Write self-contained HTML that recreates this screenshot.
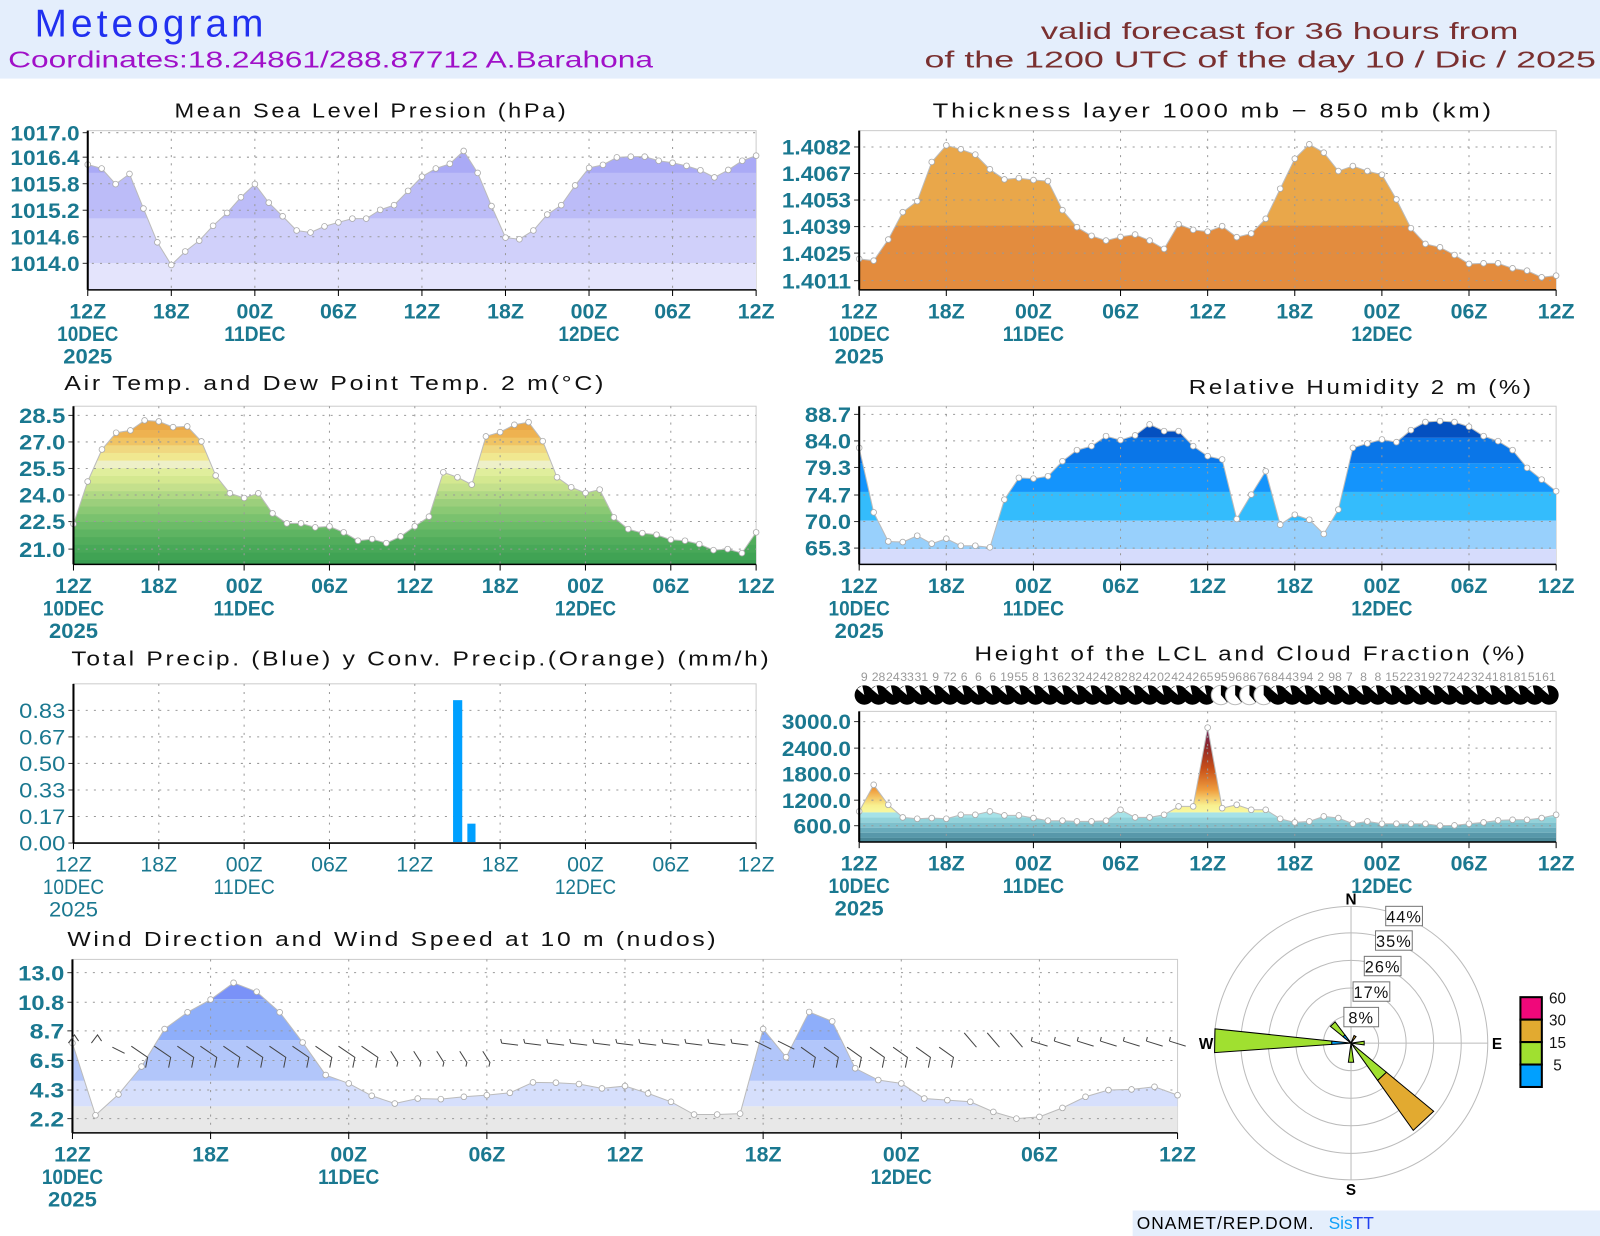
<!DOCTYPE html>
<html><head><meta charset="utf-8">
<style>
html,body{margin:0;padding:0;background:#fff;}
svg{display:block;}
text{font-family:"Liberation Sans",sans-serif;}
.t{font-size:20px;fill:#111;letter-spacing:2.2px;}
.yl{font-size:21px;font-weight:bold;fill:#1a7890;}
.xl{font-size:21px;font-weight:bold;fill:#1a7890;}
.thin{font-weight:normal;}
</style></head><body>
<div id="c"></div>
<script>
var S='';
function add(s){S+=s;}
var HX=[ '12Z','18Z','00Z','06Z','12Z','18Z','00Z','06Z','12Z'];
function panel(o){
  var x0=o.x0,x1=o.x1,y0=o.y0,y1=o.y1,n=o.n||49,id=o.id;
  var dx=(x1-x0)/(n-1);
  add('<rect x="'+x0+'" y="'+y0+'" width="'+(x1-x0)+'" height="'+(y1-y0)+'" fill="#fff" stroke="#ccc"/>');
  if(o.data){
    var pts=[];for(var i=0;i<n;i++)pts.push((x0+i*dx).toFixed(1)+','+o.data[i].toFixed(1));
    var poly=x0+','+y1+' '+pts.join(' ')+' '+x1+','+y1;
    add('<clipPath id="'+id+'"><polygon points="'+poly+'"/></clipPath><g clip-path="url(#'+id+')">');
    o.bands.forEach(function(b){add('<rect x="'+x0+'" y="'+b[0]+'" width="'+(x1-x0)+'" height="'+(b[1]-b[0])+'" fill="'+b[2]+'"/>');});
    add('</g>');
  }
  var xt=[];for(var k=0;k<9;k++)xt.push(x0+k*(x1-x0)/8);
  xt.forEach(function(x,k){if(k>0&&k<8)add('<line x1="'+x+'" y1="'+y0+'" x2="'+x+'" y2="'+y1+'" stroke="#999" stroke-dasharray="2,6"/>');});
  var th=o.thin?' thin':'';
  o.yt.forEach(function(t){add('<line x1="'+(x0+4)+'" y1="'+t[1]+'" x2="'+x1+'" y2="'+t[1]+'" stroke="#999" stroke-dasharray="2,6"/>');
    add('<line x1="'+(x0-5)+'" y1="'+t[1]+'" x2="'+x0+'" y2="'+t[1]+'" stroke="#333"/>');
    add('<text class="yl'+th+'" x="'+(x0-8)+'" y="'+(t[1]+7.5)+'" text-anchor="end" textLength="'+(t[0].length*11.3)+'" lengthAdjust="spacingAndGlyphs">'+t[0]+'</text>');});
  if(o.data){
    add('<polyline points="'+pts.join(' ')+'" fill="none" stroke="#bbb" stroke-width="1"/>');
    for(var i=0;i<n;i++)add('<circle cx="'+(x0+i*dx).toFixed(1)+'" cy="'+o.data[i].toFixed(1)+'" r="2.8" fill="#fff" stroke="#aaa" stroke-width="0.8"/>');
  }
  add('<line x1="'+x0+'" y1="'+y0+'" x2="'+x0+'" y2="'+y1+'" stroke="#000" stroke-width="2"/>');
  add('<line x1="'+x0+'" y1="'+y1+'" x2="'+x1+'" y2="'+y1+'" stroke="#000" stroke-width="1.5"/>');
  function XT(x,y,s){add('<text class="xl'+th+'" x="'+x+'" y="'+y+'" text-anchor="middle" textLength="'+(s.length*12)+'" lengthAdjust="spacingAndGlyphs">'+s+'</text>');}
  xt.forEach(function(x,k){
    add('<line x1="'+x+'" y1="'+y1+'" x2="'+x+'" y2="'+(y1+6)+'" stroke="#000"/>');
    XT(x,y1+28,HX[k]);
    var d=k==0?'10DEC':k==2?'11DEC':k==6?'12DEC':'';
    if(d)XT(x,y1+50,d);
    if(k==0)XT(x,y1+72,'2025');
  });
}
function map(a,f){return a.map(f);}
add('<rect x="0" y="0" width="1568" height="77" fill="#e4eefc"/>');
add('<text x="34" y="36" font-size="38" fill="#2030f0" letter-spacing="4">Meteogram</text>');
add('<text x="8" y="66" font-size="23" fill="#a010c8" textLength="632" lengthAdjust="spacingAndGlyphs">Coordinates:18.24861/288.87712 A.Barahona</text>');
add('<text x="1020" y="38" font-size="23" fill="#7a3030" textLength="468" lengthAdjust="spacingAndGlyphs">valid forecast for 36 hours from</text>');
add('<text x="906" y="66" font-size="23" fill="#7a3030" textLength="658" lengthAdjust="spacingAndGlyphs">of the 1200 UTC of the day 10 / Dic / 2025</text>');
function T(x,y,s,w){add('<text class="t" x="'+x+'" y="'+y+'" textLength="'+w+'" lengthAdjust="spacingAndGlyphs">'+s+'</text>');}
T(171,115,'Mean Sea Level Presion (hPa)',386);
T(914,115,'Thickness layer 1000 mb − 850 mb (km)',550);
T(63,382,'Air Temp. and Dew Point Temp. 2 m(°C)',531);
T(1165,386,'Relative Humidity 2 m (%)',338);
T(70,652,'Total Precip. (Blue) y Conv. Precip.(Orange) (mm/h)',686);
T(955,647,'Height of the LCL and Cloud Fraction (%)',542);
T(66,927,'Wind Direction and Wind Speed at 10 m (nudos)',638);

var z1=[200,212,258,228,330,430,497,457,425,381,343,297,258,313,353,395,401,383,371,360,360,334,320,278,236,212,198,160,225,323,416,421,395,348,320,262,210,201,179,177,177,189,195,204,217,238,216,189,174];
var f1=function(z){return 128+(z-100)*0.3316;};
panel({id:'c1',x0:86,x1:741,y0:128,y1:284,data:map(z1,f1),
 bands:[[120,f1(225),'#aaaaf6'],[f1(225),f1(360),'#bcbcf8'],[f1(360),f1(492),'#d0d0fa'],[f1(492),290,'#e4e4fc']],
 yt:[['1017.0',130],['1016.4',154],['1015.8',180],['1015.2',206],['1014.6',232],['1014.0',258]]});
var z2=[415,420,357,275,242,125,75,87,103,147,177,173,179,182,269,320,346,360,349,342,360,385,311,328,333,317,350,339,295,205,115,72,97,152,137,152,163,237,323,370,380,403,430,428,428,443,450,470,465];
var f2=function(z){return 144+(z-80)*0.3275;};
panel({id:'c2',x0:842,x1:1525,y0:128,y1:284,data:map(z2,f2),
 bands:[[120,f2(315),'#e9a74a'],[f2(315),290,'#e38c3e']],
 yt:[['1.4082',144],['1.4067',170],['1.4053',196],['1.4039',222],['1.4025',248],['1.4011',275]]});
var z3=[430,303,207,157,150,120,123,140,138,183,285,338,352,338,398,428,428,440,437,455,480,475,487,467,437,408,275,290,312,168,155,133,125,182,290,320,337,327,410,445,457,462,477,480,490,508,505,517,455];
var f3=function(z){return 407+(z-105)*0.3275;};
var tc=['#3a9e52','#40a354','#48a858','#52ad5c','#5eb462','#6cbb68','#7ac26e','#8ac974','#9ccf7c','#b0d884','#c4e08c','#d4e890','#e0ee9c','#eef0c8','#f0e890','#f0d880','#f0c464','#eeb250','#eaa848'];
var tb=[];for(var i=0;i<tc.length;i++){var yb=556-i*7.5;tb.push([yb-7.5,yb+0.3,tc[i]]);}
tb[tb.length-1][0]=390;
panel({id:'c3',x0:72,x1:741,y0:398,y1:553,data:map(z3,f3),bands:tb,
 yt:[['28.5',407],['27.0',433],['25.5',459],['24.0',485],['22.5',511],['21.0',538]]});
var z4=[985,1178,1265,1267,1248,1272,1257,1278,1278,1283,1140,1075,1077,1070,1025,992,980,950,962,948,915,935,935,980,1010,1020,1198,1125,1055,1215,1185,1200,1243,1170,985,972,960,968,932,908,905,908,922,950,965,992,1045,1080,1115];
var f4=function(z){return 406+(z-885)*0.3275;};
panel({id:'c4',x0:842,x1:1525,y0:398,y1:553,data:map(z4,f4),
 bands:[[390,429,'#0450c0'],[429,454,'#0a76e8'],[454,482,'#1494fc'],[482,510,'#34bcfc'],[510,538,'#98d0fc'],[538,560,'#d6dcfc']],
 yt:[['88.7',406],['84.0',432],['79.3',458],['74.7',485],['70.0',511],['65.3',537]]});
panel({id:'c5',x0:72,x1:741,y0:670,y1:826,thin:true,
 yt:[['0.83',696],['0.67',722],['0.50',748],['0.33',774],['0.17',800],['0.00',826]]});
add('<rect x="444" y="686" width="9" height="139" fill="#00a0ff"/><rect x="458" y="807" width="8" height="18" fill="#00a0ff"/>');
var z6=[515,435,495,533,537,535,537,525,525,515,527,527,535,543,543,545,545,543,510,533,533,525,500,500,263,505,495,510,510,537,548,545,530,535,552,545,552,552,552,552,558,557,552,548,542,540,540,535,525];
var f6=function(z){return 707+(z-245)*0.326;};
var lb=[[690,796,'url(#lg)'],[796,801,'#a6e2e8'],[801,806,'#92d2da'],[806,811,'#7ec0cc'],[811,816,'#6aacbc'],[816,821,'#5898aa'],[821,830,'#4a8898']];
add('<defs><linearGradient id="lg" x1="0" y1="710" x2="0" y2="796" gradientUnits="userSpaceOnUse"><stop offset="0" stop-color="#6a1f6a"/><stop offset="0.25" stop-color="#902828"/><stop offset="0.5" stop-color="#c85018"/><stop offset="0.75" stop-color="#f0a040"/><stop offset="0.92" stop-color="#f8f090"/><stop offset="1" stop-color="#f8f8a0"/></linearGradient></defs>');
panel({id:'c6',x0:842,x1:1525,y0:697,y1:825,data:map(z6,f6),bands:lb,
 yt:[['3000.0',707],['2400.0',733],['1800.0',758],['1200.0',784],['600.0',809]]});
var nums='9 28 24 33 31 9 72 6 6 6 19 55 8 13 62 32 42 42 82 82 42 02 42 42 65 95 96 86 76 84 43 94 2 98 7 8 8 15 22 31 92 72 42 32 41 81 81 51 61 21 21 21 6 9'.split(' ');
for(var i=0;i<49;i++){var cx=847+i*(1518-847)/48;
  add('<text x="'+cx.toFixed(1)+'" y="667" font-size="12" fill="#999" text-anchor="middle">'+(nums[i]||'9')+'</text>');
  if(i>=25&&i<=28){add('<circle cx="'+cx+'" cy="681" r="9.5" fill="#fff" stroke="#bbb"/><path d="M'+cx+',681 L'+cx+',671.5 A9.5,9.5 0 0,1 '+(cx+6)+',688 Z" fill="#000"/>');}
  else add('<circle cx="'+cx.toFixed(1)+'" cy="681" r="9.5" fill="#000"/><path d="M'+cx.toFixed(1)+',681 L'+(cx-2).toFixed(1)+',671.5 L'+(cx-7).toFixed(1)+',675 Z" fill="#fff"/>');
}
var z7=[340,555,493,410,298,248,210,160,187,248,338,435,460,497,520,505,507,500,495,488,457,458,462,475,468,490,515,553,553,550,298,382,247,275,415,450,460,505,510,515,545,565,560,533,500,480,478,470,495];
var f7=function(z){return 953+(z-130)*0.3287;};
panel({id:'c7',x0:71,x1:1154,y0:940,y1:1110,data:map(z7,f7),
 bands:[[930,979,'#7a92f8'],[979,1019,'#8eaefa'],[1019,1059,'#b2c6fa'],[1059,1084,'#d6dffc'],[1084,1115,'#e8e8e8']],
 yt:[['13.0',953],['10.8',982],['8.7',1010],['6.5',1039],['4.3',1068],['2.2',1096]]});
var dxw=(1154-71)/48;
for(var i=0;i<49;i++){var x=71+i*dxw;var s='';
  if(i<=1){s='M'+(x-4)+',1022 L'+(x+2)+',1014 L'+(x+6)+',1020';}
  else if(i<=2){s='M'+(x-6)+',1026 L'+(x+6)+',1032';}
  else if(i<=13){s='M'+(x-10)+',1025 L'+(x+6)+',1036 L'+(x+4)+',1046';}
  else if(i<=18){s='M'+(x-4)+',1030 L'+(x+3)+',1041 L'+(x+2)+',1045';}
  else if(i<=29){s='M'+(x-8)+',1022 L'+(x+8)+',1024 M'+(x-8)+',1022 L'+(x-9)+',1018';}
  else if(i<=31){s='M'+(x-8)+',1020 L'+(x+8)+',1028';}
  else if(i<=38){s='M'+(x-8)+',1026 L'+(x+6)+',1036 L'+(x+4)+',1046';}
  else if(i<=41){s='M'+(x-6)+',1012 L'+(x+6)+',1026';}
  else {s='M'+(x-8)+',1020 L'+(x+8)+',1025 M'+(x-8)+',1020 L'+(x-7)+',1016';}
  add('<path d="'+s+'" fill="none" stroke="#444" stroke-width="1"/>');
}
var cx=1324,cy=1022;
[27,54,81,108,134].forEach(function(r){add('<circle cx="'+cx+'" cy="'+cy+'" r="'+r+'" fill="none" stroke="#bbb"/>');});
add('<line x1="'+(cx-134)+'" y1="'+cy+'" x2="'+(cx+134)+'" y2="'+cy+'" stroke="#bbb"/><line x1="'+cx+'" y1="'+(cy-134)+'" x2="'+cx+'" y2="'+(cy+134)+'" stroke="#bbb"/>');
function wedge(ang,r0,r1,hw,col){var a=ang*Math.PI/180,w=hw*Math.PI/180;
  function P(r,t){return (cx+r*Math.sin(t)).toFixed(1)+','+(cy-r*Math.cos(t)).toFixed(1);}
  add('<polygon points="'+P(r0,a-w)+' '+P(r1,a-w)+' '+P(r1,a+w)+' '+P(r0,a+w)+'" fill="'+col+'" stroke="#000" stroke-width="1"/>');}
wedge(271,0,19,5,'#00a0ff');wedge(271,19,134,5,'#a0e030');
wedge(137,0,45,7.5,'#a0e030');wedge(137,45,105,7.5,'#e2aa30');
wedge(316,0,26,7,'#a0e030');wedge(316,0,10,7,'#00a0ff');
wedge(180,0,19,8,'#a0e030');wedge(90,0,13,8,'#a0e030');wedge(30,0,8,8,'#e2aa30');
[['8%',1334,997,34],['17%',1344,972,36],['26%',1355,947,36],['35%',1366,922,36],['44%',1376,898,36]].forEach(function(l){
  add('<rect x="'+(l[1]-l[3]/2)+'" y="'+(l[2]-10)+'" width="'+l[3]+'" height="19" fill="#fff" stroke="#777"/><text x="'+l[1]+'" y="'+(l[2]+6)+'" font-size="16" text-anchor="middle" fill="#111" letter-spacing="1">'+l[0]+'</text>');});
add('<text x="1324" y="886" font-size="15" font-weight="bold" text-anchor="middle">N</text><text x="1324" y="1171" font-size="15" font-weight="bold" text-anchor="middle">S</text><text x="1182" y="1028" font-size="15" font-weight="bold" text-anchor="middle">W</text><text x="1467" y="1028" font-size="15" font-weight="bold" text-anchor="middle">E</text>');
[['#f0087a',977,'60'],['#e2aa30',999,'30'],['#a0e030',1021,'15'],['#00a0ff',1043,' 5']].forEach(function(b){
  add('<rect x="1490" y="'+b[1]+'" width="21" height="22" fill="'+b[0]+'" stroke="#000" stroke-width="2"/><text x="1518" y="'+(b[1]+6)+'" font-size="15" fill="#111" xml:space="preserve">'+b[2]+'</text>');});
add('<rect x="1110" y="1186" width="458" height="25" fill="#e4eefc"/><text x="1114" y="1204" font-size="17" fill="#000" letter-spacing="1">ONAMET/REP.DOM.</text><text x="1302" y="1204" font-size="17" fill="#10a0f8">Sis<tspan fill="#2040f0">TT</tspan></text>');
document.getElementById('c').innerHTML='<svg xmlns="http://www.w3.org/2000/svg" width="1600" height="1236" viewBox="0 0 1568 1211" preserveAspectRatio="none">'+S+'</svg>';
</script>
</body></html>
